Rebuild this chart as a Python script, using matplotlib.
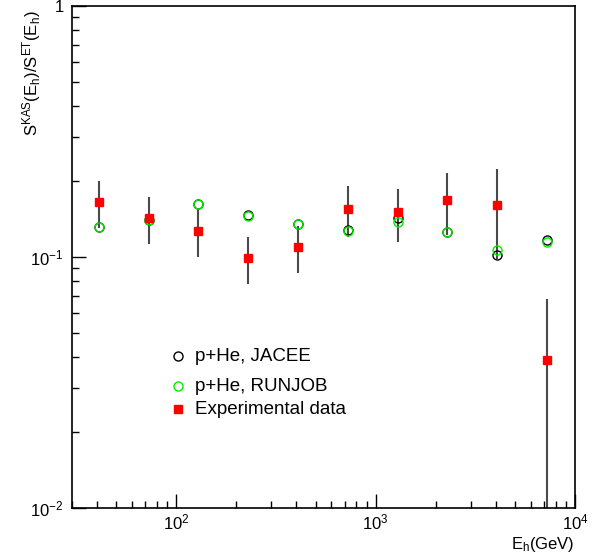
import matplotlib
matplotlib.use("Agg")
import matplotlib.pyplot as plt
import numpy as np
from matplotlib.ticker import LogLocator, NullFormatter, FixedLocator, FixedFormatter

# energies (GeV)
energy = [41, 73, 129, 229, 407, 724, 1288, 2291, 4074, 7244]

# experimental ratio and errors
exp_val = [0.165, 0.143, 0.127, 0.0993, 0.1096, 0.156, 0.151, 0.169, 0.161, 0.039]
exp_err = [0.035, 0.030, 0.027, 0.021, 0.0235, 0.036, 0.036, 0.047, 0.063, 0.029]

# model predictions
jacee = [0.132, 0.141, 0.162, 0.1466, 0.135, 0.1277, 0.143, 0.126, 0.102, 0.1165]
runjob = [0.132, 0.140, 0.162, 0.146, 0.135, 0.1275, 0.138, 0.126, 0.107, 0.115]

labels = ["p+He, JACEE", "p+He, RUNJOB", "Experimental data"]

plt.rcParams['font.family'] = ['Liberation Sans', 'DejaVu Sans']
plt.rcParams['mathtext.fontset'] = 'custom'
plt.rcParams['mathtext.rm'] = 'Liberation Sans'
plt.rcParams['mathtext.it'] = 'Liberation Sans'

fig = plt.figure(figsize=(6.01, 5.58), dpi=100)
ax = fig.add_axes([72/601, 1-508/558, (575-72)/601, (508-6)/558])

ax.set_xscale('log')
ax.set_yscale('log')
ax.set_xlim(30, 1e4)
ax.set_ylim(1e-2, 1)

ax.errorbar(energy, exp_val, yerr=exp_err, fmt='none', ecolor='#4a4a4a',
            elinewidth=1.5, capsize=0, zorder=2)
ax.plot(energy, jacee, 'o', mfc='none', mec='black', ms=6.5, mew=1.0, zorder=3)
ax.plot(energy, runjob, 'o', mfc='none', mec='#00ee00', ms=6.5, mew=1.0, zorder=3)
ax.plot(energy, exp_val, 's', color='red', ms=6, zorder=4)

# ROOT-style ticks: inside, only bottom and left
ax.tick_params(which='both', direction='in', top=False, right=False)
ax.tick_params(which='major', length=10, width=1, labelsize=12)
ax.tick_params(which='minor', length=5, width=1)
ax.xaxis.set_major_locator(LogLocator(base=10, numticks=10))
ax.xaxis.set_minor_locator(LogLocator(base=10, subs=np.arange(2, 10), numticks=20))
ax.xaxis.set_minor_formatter(NullFormatter())
ax.yaxis.set_major_locator(FixedLocator([0.01, 0.1, 1]))
ax.yaxis.set_major_formatter(FixedFormatter([r'$10^{-2}$', r'$10^{-1}$', '1']))
ax.yaxis.set_minor_locator(LogLocator(base=10, subs=np.arange(2, 10), numticks=20))
ax.yaxis.set_minor_formatter(NullFormatter())
ax.tick_params(axis='x', pad=3)
ax.tick_params(axis='y', pad=6)
for s in ax.spines.values():
    s.set_linewidth(1.2)

# legend drawn by hand (uneven spacing as in the original)
leg_y = [0.302, 0.243, 0.197]
leg_style = [dict(marker='o', mfc='none', mec='black', ms=6.5, mew=1.0),
             dict(marker='o', mfc='none', mec='#00ee00', ms=6.5, mew=1.0),
             dict(marker='s', color='red', ms=6)]
for yy, lab, st in zip(leg_y, labels, leg_style):
    ax.plot([0.21], [yy], transform=ax.transAxes, linestyle='none', **st)
    ax.text(0.245, yy, lab, transform=ax.transAxes, va='center', ha='left', fontsize=13.5)

fig.text(32/601, 1-10/558, r'$\mathregular{S^{KAS}(E_h)/S^{ET}(E_h)}$', rotation=90,
         ha='center', va='top', fontsize=12)
fig.text(575/601, 1-545/558, r'$\mathregular{E_h(GeV)}$', ha='right', va='center', fontsize=12)

fig.savefig("out.png", dpi=100)
